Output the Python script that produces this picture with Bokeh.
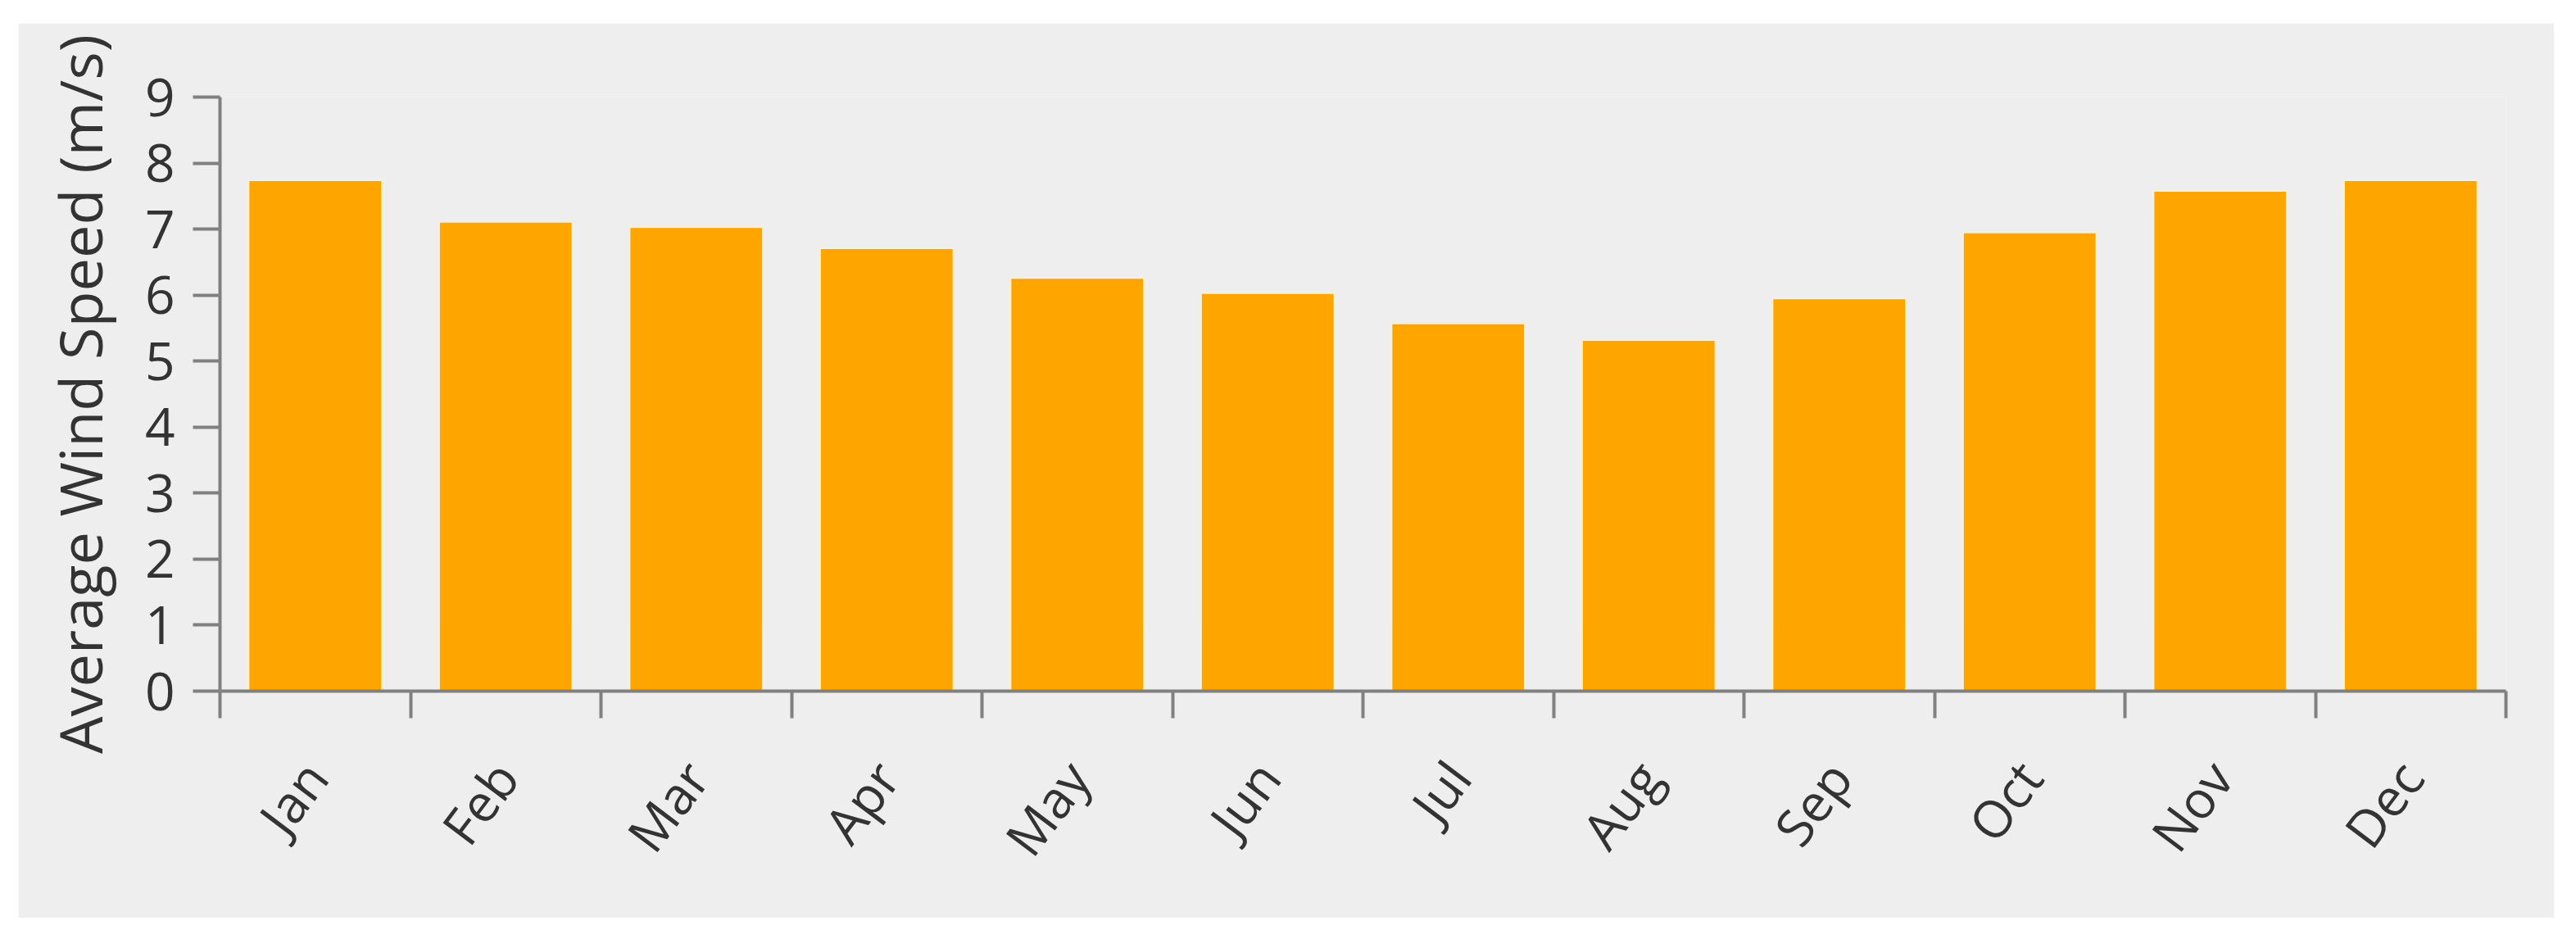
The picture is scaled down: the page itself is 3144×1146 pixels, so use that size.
import math
from bokeh.plotting import figure
from bokeh.models import ColumnDataSource, FixedTicker, Range1d, Spacer
from bokeh.layouts import row, column
from bokeh.embed import file_html
from bokeh.resources import INLINE

months = ["Jan", "Feb", "Mar", "Apr", "May", "Jun",
          "Jul", "Aug", "Sep", "Oct", "Nov", "Dec"]
wind_speed = [7.74, 7.11, 7.03, 6.71, 6.26, 6.03, 5.57, 5.32, 5.95, 6.95, 7.58, 7.74]
y_ticks = [0, 1, 2, 3, 4, 5, 6, 7, 8, 9]
y_label = "Average Wind Speed (m/s)"

idx = list(range(len(months)))
src = ColumnDataSource(dict(x=idx, top=wind_speed, month=months))

BG = "#EEEEEE"
AXIS = "#808080"
TXT = "#333333"
FONT = "Open Sans"

p = figure(width=3095, height=1092, output_backend="svg", toolbar_location=None,
           x_range=Range1d(-0.5, len(months) - 0.5), y_range=Range1d(0, 9),
           min_border_left=246, min_border_right=59, min_border_top=90,
           min_border_bottom=277)
p.background_fill_color = BG
p.border_fill_color = BG
p.outline_line_color = None
p.grid.visible = False

p.vbar(x="x", top="top", width=0.7, source=src, fill_color="#FFA500",
       line_color="#FFF0CC", line_width=2)

# x axis: labels at centres, ticks at category edges
xa = p.xaxis[0]
xa.ticker = FixedTicker(ticks=idx, minor_ticks=[i - 0.5 for i in range(len(months) + 1)])
xa.major_label_overrides = {i: m for i, m in zip(idx, months)}
xa.major_tick_line_color = None
xa.major_tick_out = 0
xa.major_tick_in = 0
xa.minor_tick_line_color = AXIS
xa.minor_tick_line_width = 4
xa.minor_tick_out = 33
xa.minor_tick_in = 0
xa.axis_line_color = AXIS
xa.axis_line_width = 4
xa.major_label_orientation = math.radians(53)
xa.major_label_standoff = 60
xa.major_label_text_font = FONT
xa.major_label_text_font_size = "63px"
xa.major_label_text_color = TXT

ya = p.yaxis[0]
ya.ticker = FixedTicker(ticks=y_ticks, minor_ticks=[])
ya.axis_line_color = AXIS
ya.axis_line_width = 4
ya.major_tick_line_color = AXIS
ya.major_tick_line_width = 4
ya.major_tick_out = 33
ya.major_tick_in = 0
ya.minor_tick_line_color = None
ya.major_label_standoff = 22
ya.major_label_text_font = FONT
ya.major_label_text_font_size = "64px"
ya.major_label_text_color = TXT
ya.axis_label = y_label
ya.axis_label_text_font = FONT
ya.axis_label_text_font_size = "72px"
ya.axis_label_text_font_style = "normal"
ya.axis_label_text_color = TXT
ya.axis_label_standoff = 28

layout = row(Spacer(width=22), column(Spacer(height=28), p))

open("out.html", "w").write(file_html(layout, INLINE))
